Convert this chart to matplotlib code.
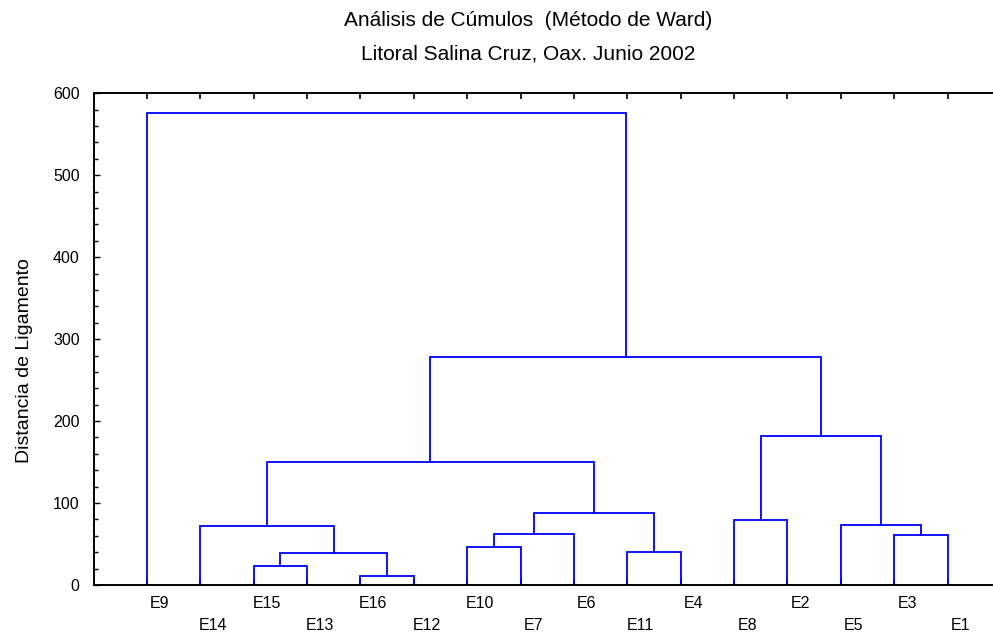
import matplotlib
matplotlib.use("Agg")
import matplotlib.pyplot as plt
from matplotlib.ticker import MultipleLocator
from matplotlib.transforms import ScaledTranslation

plt.rcParams['font.family'] = ['Liberation Sans', 'DejaVu Sans']

# Leaf order along the x axis
leaves = ["E9", "E14", "E15", "E13", "E16", "E12", "E10", "E7",
          "E6", "E11", "E4", "E8", "E2", "E5", "E3", "E1"]

# Ward linkage: each merge joins two nodes (leaf index or earlier merge id)
merge_left = [4, 2, 17, 1, 6, 20, 9, 21, 19, 14, 13, 11, 27, 24, 0]
merge_right = [5, 3, 16, 18, 7, 8, 10, 22, 23, 15, 25, 12, 26, 28, 29]
merge_height = [11.3, 22.8, 38.7, 72.0, 46.7, 62.6, 40.6, 87.5, 150.0,
                61.4, 73.2, 79.3, 182.0, 278.0, 576.0]

title_lines = ["Análisis de Cúmulos  (Método de Ward)",
               "Litoral Salina Cruz, Oax. Junio 2002"]
y_label = "Distancia de Ligamento"

W, H = 993, 637
fig = plt.figure(figsize=(W / 100, H / 100), dpi=100)
ax = fig.add_axes([93.5 / W, 52 / H, 907.5 / W, 491.7 / H])

n = len(leaves)
xpos = {i: i + 1 for i in range(n)}
ypos = {i: 0.0 for i in range(n)}

color = (0.0, 0.0, 1.0)
for k, (a, b, h) in enumerate(zip(merge_left, merge_right, merge_height)):
    node = n + k
    xa, xb = xpos[a], xpos[b]
    ax.plot([xa, xa, xb, xb], [ypos[a], h, h, ypos[b]],
            color=color, lw=1.3, solid_joinstyle='miter', clip_on=False)
    xpos[node] = (xa + xb) / 2
    ypos[node] = h

ax.set_xlim(0, n + 1)
ax.set_ylim(0, 600)

ax.set_xticks(range(1, n + 1))
ax.set_xticklabels([])
ax.yaxis.set_major_locator(MultipleLocator(100))
ax.yaxis.set_minor_locator(MultipleLocator(20))

ax.tick_params(axis='x', which='both', direction='in', top=True,
               length=4, width=1.2)
ax.tick_params(axis='y', which='major', direction='in', length=4,
               width=1.0, labelsize=11.5, pad=10)
ax.tick_params(axis='y', which='minor', direction='in', length=3,
               width=1.0)
for s in ax.spines.values():
    s.set_linewidth(1.4)

# Leaf names on two staggered rows below the axis
xt = ax.get_xaxis_transform()
for i, lab in enumerate(leaves):
    dy = -18.5 if i % 2 == 0 else -40.5
    off = ScaledTranslation(13 / 100, dy / 100, fig.dpi_scale_trans)
    ax.text(xpos[i], 0, lab, transform=xt + off, ha='center', va='center',
            fontsize=11.5)

fig.text(24.7 / W, 1 - 361 / H, y_label, rotation=90,
         ha='center', va='center', fontsize=14)

fig.text(528 / W, 1 - 26 / H, title_lines[0],
         ha='center', va='baseline', fontsize=15)
fig.text(528 / W, 1 - 60 / H, title_lines[1],
         ha='center', va='baseline', fontsize=15)

fig.savefig("out.png", dpi=100)
